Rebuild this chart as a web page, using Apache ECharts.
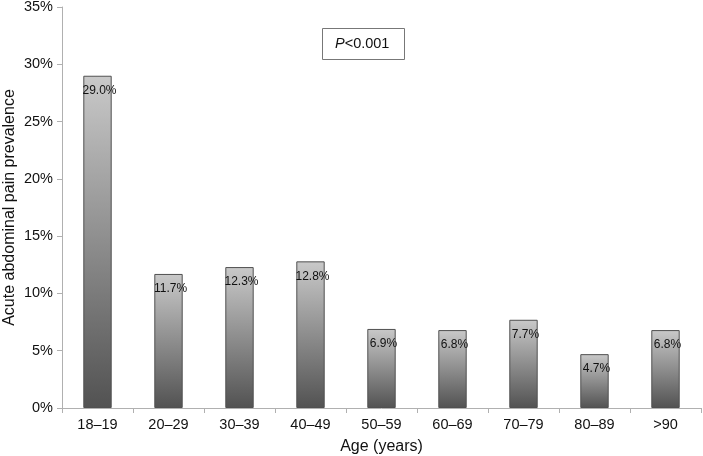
<!DOCTYPE html>
<html>
<head>
<meta charset="utf-8">
<script src="https://cdn.jsdelivr.net/npm/echarts@6/dist/echarts.min.js"></script>
<style>html,body{margin:0;padding:0;background:#fff;}#c{width:703px;height:456px;}</style>
</head>
<body>
<div id="c"></div>
<script>
var categories = ['18\u201319','20\u201329','30\u201339','40\u201349','50\u201359','60\u201369','70\u201379','80\u201389','>90'];
var prevalence = [29.0, 11.7, 12.3, 12.8, 6.9, 6.8, 7.7, 4.7, 6.8];
var yTicks = [0, 5, 10, 15, 20, 25, 30, 35];

var chart = echarts.init(document.getElementById('c'));
var font = 'Liberation Sans, Arial, sans-serif';
chart.setOption({
  animation: false,
  grid: {left: 62, right: 2, top: 7, bottom: 48, containLabel: false, outerBoundsMode: 'none'},
  xAxis: {
    type: 'category',
    data: categories,
    name: 'Age (years)',
    nameLocation: 'middle',
    nameGap: 31,
    nameMoveOverlap: false,
    nameTextStyle: {fontFamily: font, fontSize: 16, color: '#111'},
    axisLine: {lineStyle: {color: '#b0b0b0'}},
    axisTick: {show: true, length: 5, lineStyle: {color: '#b0b0b0'}},
    axisLabel: {fontFamily: font, fontSize: 14.5, color: '#111', margin: 9}
  },
  yAxis: {
    type: 'value',
    min: 0, max: 35, interval: 5,
    name: 'Acute abdominal pain prevalence',
    nameLocation: 'middle',
    nameGap: 44,
    nameMoveOverlap: false,
    nameTextStyle: {fontFamily: font, fontSize: 16, color: '#111'},
    axisLine: {show: true, lineStyle: {color: '#b0b0b0'}},
    axisTick: {show: true, length: 5, lineStyle: {color: '#b0b0b0'}},
    splitLine: {show: false},
    axisLabel: {fontFamily: font, fontSize: 14.5, color: '#111', margin: 9,
      formatter: function (v) { return yTicks.indexOf(v) >= 0 ? v + '%' : ''; }}
  },
  series: [{
    type: 'bar',
    data: prevalence,
    barWidth: '40%',
    itemStyle: {
      borderColor: '#505050',
      borderWidth: 1,
      color: new echarts.graphic.LinearGradient(0, 0, 0, 1, [
        {offset: 0, color: '#c9c9c9'},
        {offset: 1, color: '#525252'}
      ])
    },
    label: {
      show: true,
      position: 'insideTop',
      distance: 9,
      offset: [2, 0],
      fontFamily: font,
      fontSize: 12,
      color: '#111',
      formatter: function (p) { return p.value.toFixed(1) + '%'; }
    }
  }],
  graphic: [
    {type: 'rect', left: 322, top: 28, shape: {width: 82, height: 31},
     style: {fill: '#fff', stroke: '#777', lineWidth: 1}},
    {type: 'text', left: 335, top: 36,
     style: {rich: {i: {fontStyle: 'italic', fontFamily: font, fontSize: 14.5, fill: '#111'},
                    n: {fontFamily: font, fontSize: 14.5, fill: '#111'}},
             text: '{i|P}{n|<0.001}'}}
  ]
});
</script>
</body>
</html>
